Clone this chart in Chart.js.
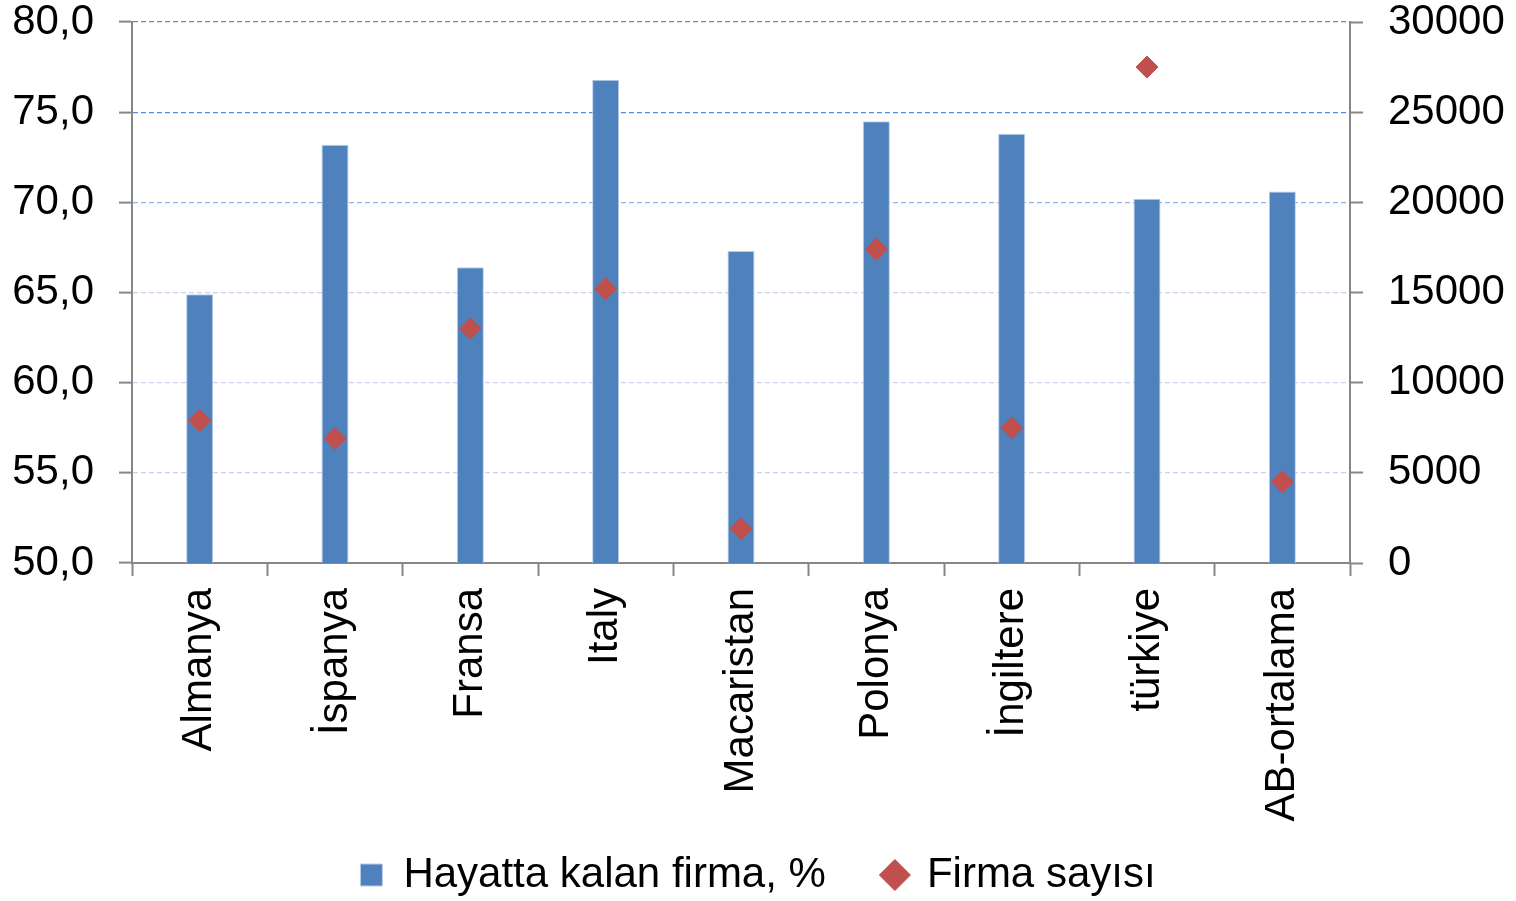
<!DOCTYPE html>
<html>
<head>
<meta charset="utf-8">
<script src="https://cdn.jsdelivr.net/npm/chart.js@4"></script>
<style>
  html, body { margin: 0; padding: 0; background: #fff; }
  #wrap { width: 1516px; height: 901px; }
</style>
</head>
<body>
<div id="wrap"><canvas id="chart"></canvas></div>
<script>
// values
const countries = ['Almanya', 'İspanya', 'Fransa', 'Italy', 'Macaristan', 'Polonya', 'İngiltere', 'türkiye', 'AB-ortalama'];
const survivalPct = [64.9, 73.2, 66.4, 76.8, 67.3, 74.5, 73.8, 70.2, 70.6];
const firmCount = [7900, 6900, 13000, 15200, 1900, 17400, 7500, 27500, 4500];

const FONT = '"Liberation Sans", Arial, sans-serif';
const axisGray = '#868686';

// grid colours vary a bit from top to bottom in the original
function gridColor(ctx) {
  const v = ctx.tick ? ctx.tick.value : 0;
  if (v >= 75) return '#4f8ee0';
  if (v >= 70) return '#93b3e8';
  if (v <= 50) return 'rgba(0,0,0,0)';
  return '#c9d3f0';
}

// fix the side axis widths and drop the extra top padding chart.js adds
function fitSide(width) {
  return s => {
    s.width = width;
    s.paddingTop = 22;
    s.paddingBottom = 0;
  };
}

// legend keeps wide item spacing but a short box, so pull its top up
// (bottom stays, otherwise the legend clip cuts the text)
const legendShift = {
  id: 'legendShift',
  afterLayout(chart) {
    chart.legend.top -= 32;
  }
};

const ctx = document.getElementById('chart').getContext('2d');
new Chart(ctx, {
  data: {
    labels: countries,
    datasets: [
      {
        type: 'bar',
        label: 'Hayatta kalan firma, %',
        data: survivalPct,
        backgroundColor: '#4f81bd',
        borderColor: '#b9cde8',
        borderWidth: 1,
        barPercentage: 0.2,
        categoryPercentage: 1,
        pointStyle: 'rect',
        yAxisID: 'y',
        order: 2
      },
      {
        type: 'line',
        label: 'Firma sayısı',
        data: firmCount,
        showLine: false,
        pointStyle: 'rectRot',
        pointRadius: 11,
        pointBackgroundColor: '#c0504d',
        pointBorderColor: '#c0504d',
        backgroundColor: '#c0504d',
        borderColor: '#c0504d',
        yAxisID: 'y2',
        order: 1
      }
    ]
  },
  plugins: [legendShift],
  options: {
    responsive: true,
    maintainAspectRatio: false,
    animation: false,
    layout: { padding: { left: 12, right: 12, top: 0, bottom: 0 } },
    plugins: {
      tooltip: { enabled: false },
      legend: {
        position: 'bottom',
        maxHeight: 73,
        labels: {
          usePointStyle: true,
          boxWidth: 22,
          boxHeight: 22,
          padding: 58,
          color: '#000',
          font: { family: FONT, size: 42 },
          sort: (a, b) => a.datasetIndex - b.datasetIndex
        }
      }
    },
    scales: {
      x: {
        offset: true,
        afterFit: s => { s.height = 265; },
        grid: {
          offset: true,
          drawOnChartArea: false,
          tickLength: 13,
          tickColor: axisGray,
          tickWidth: 2
        },
        border: { color: axisGray, width: 2 },
        ticks: {
          minRotation: 90,
          maxRotation: 90,
          padding: 12,
          color: '#000',
          font: { family: FONT, size: 42 }
        }
      },
      y: {
        position: 'left',
        min: 50,
        max: 80,
        afterFit: fitSide(120),
        ticks: {
          stepSize: 5,
          padding: 25,
          color: '#000',
          font: { family: FONT, size: 42 },
          callback: v => v.toFixed(1).replace('.', ',')
        },
        grid: {
          color: gridColor,
          lineWidth: 1.2,
          tickLength: 13,
          tickColor: axisGray,
          tickWidth: 2
        },
        border: { color: axisGray, width: 2, dash: [5, 3] }
      },
      y2: {
        position: 'right',
        min: 0,
        max: 30000,
        afterFit: fitSide(154),
        ticks: {
          stepSize: 5000,
          padding: 25,
          color: '#000',
          font: { family: FONT, size: 42 },
          callback: v => String(v)
        },
        grid: {
          drawOnChartArea: false,
          tickLength: 13,
          tickColor: axisGray,
          tickWidth: 2
        },
        border: { color: axisGray, width: 2 }
      }
    }
  }
});
</script>
</body>
</html>
